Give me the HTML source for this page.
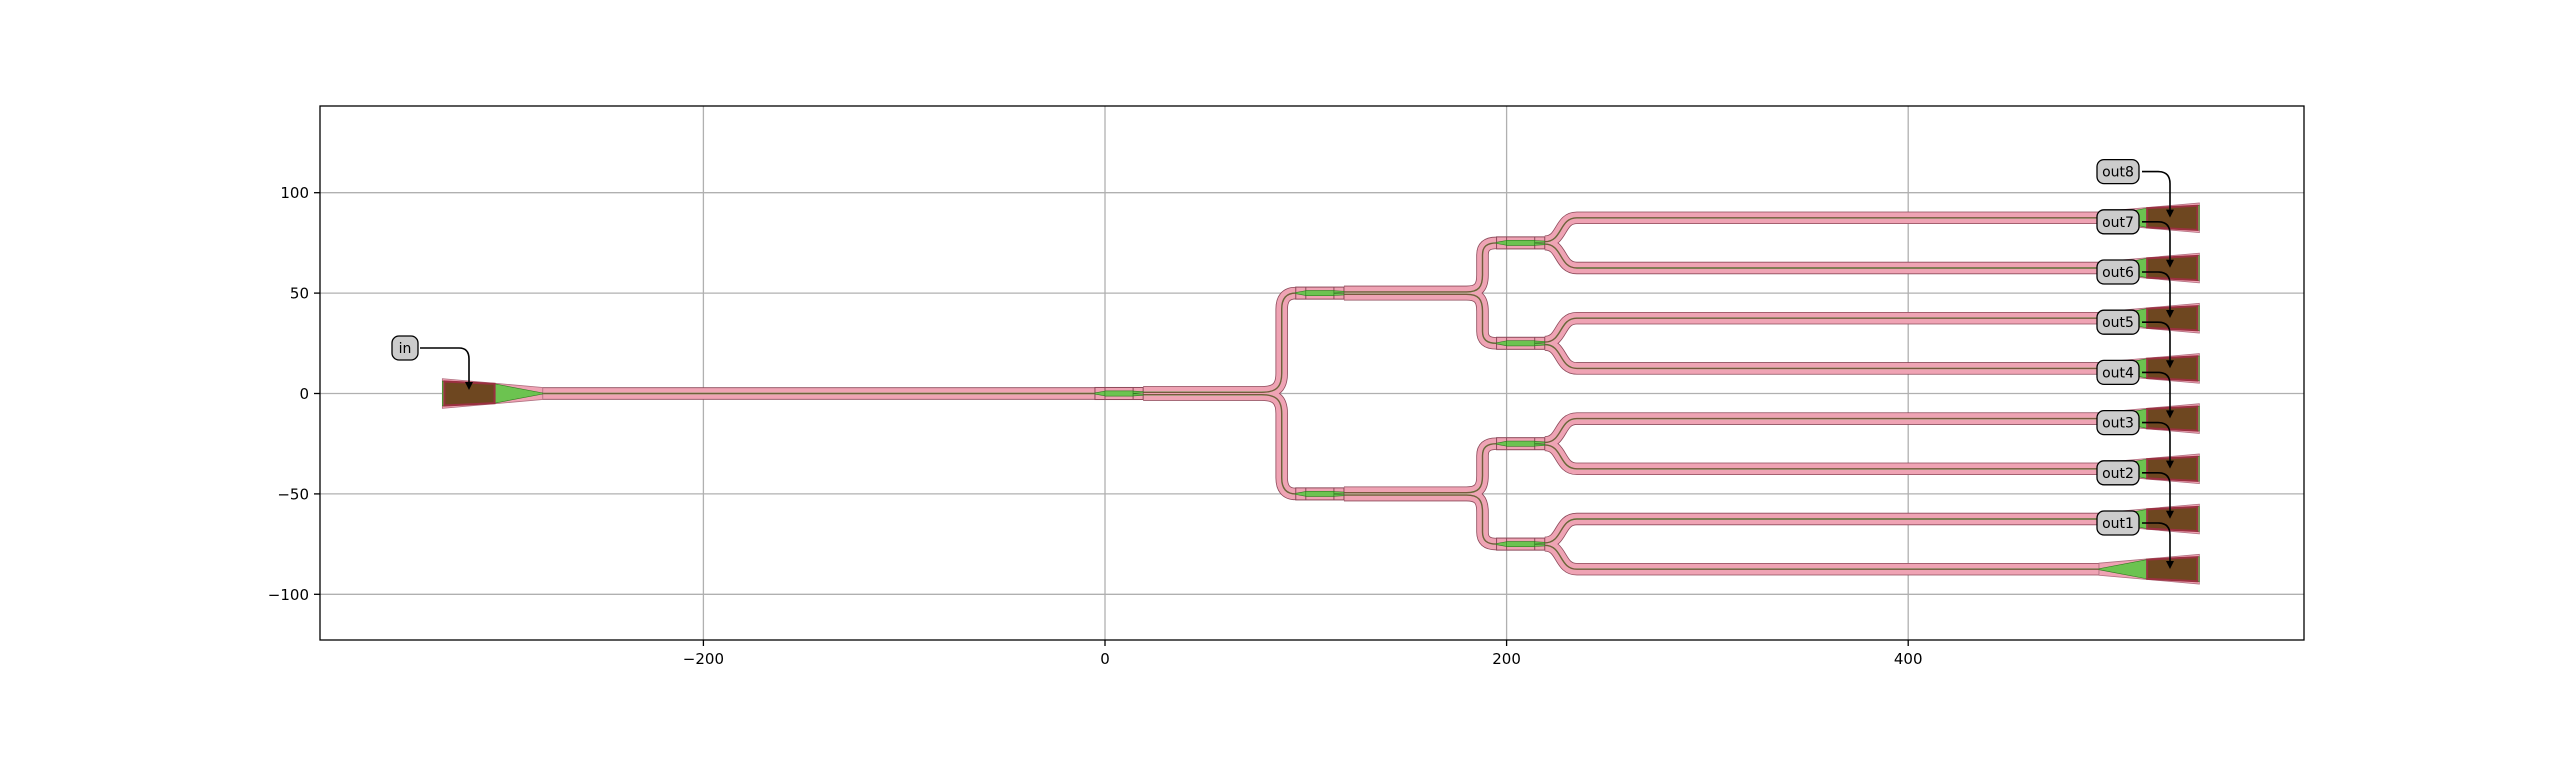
<!DOCTYPE html>
<html><head><meta charset="utf-8"><style>
html,body{margin:0;padding:0;background:#fff;}
svg{display:block;}
text{font-family:"DejaVu Sans","Liberation Sans",sans-serif;}
</style></head><body>
<svg width="2560" height="767" viewBox="0 0 2560 767" xmlns="http://www.w3.org/2000/svg">
<defs>
  <g id="br3">
    <path d="M219 0.6 C228 0.6 226 12.5 235 12.5 H495"/>
    <path d="M219 -0.6 C228 -0.6 226 -12.5 235 -12.5 H495"/>
  </g>
  <g id="br2">
    <path d="M119 0.6 H180 C186 0.6 188 3 188 9 V19 C188 23 190 25 195 25"/>
    <path d="M119 -0.6 H180 C186 -0.6 188 -3 188 -9 V-19 C188 -23 190 -25 195 -25"/>
  </g>
  <g id="wg">
    <path d="M-280 0 H-5"/>
    <path d="M19 0.6 H78 C85 0.6 88 3 88 10 V42 C88 47 90 50 95 50"/>
    <path d="M19 -0.6 H78 C85 -0.6 88 -3 88 -10 V-42 C88 -47 90 -50 95 -50"/>
    <use href="#br2" transform="translate(0,50)"/>
    <use href="#br2" transform="translate(0,-50)"/>
    <use href="#br3" transform="translate(0,75)"/>
    <use href="#br3" transform="translate(0,25)"/>
    <use href="#br3" transform="translate(0,-25)"/>
    <use href="#br3" transform="translate(0,-75)"/>
  </g>
  <g id="mmi">
    <rect x="0" y="-3" width="24" height="6" fill="#efa3b4" stroke="#8c4a5a" stroke-width="0.5"/>
    <line x1="5" y1="-3" x2="5" y2="3" stroke="#8c4a5a" stroke-width="0.5"/>
    <line x1="19" y1="-3" x2="19" y2="3" stroke="#8c4a5a" stroke-width="0.5"/>
    <polygon points="0,-0.3 5,-1.2 5,1.2 0,0.3" fill="#6cc350" stroke="#2f7a20" stroke-width="0.3"/>
    <rect x="5" y="-1.3" width="14" height="2.6" fill="#6cc350" stroke="#2f7a20" stroke-width="0.3"/>
    <polygon points="19,-1.2 24,-0.9 24,-0.3 19,-0.1" fill="#6cc350" stroke="#2f7a20" stroke-width="0.3"/>
    <polygon points="19,1.2 24,0.9 24,0.3 19,0.1" fill="#6cc350" stroke="#2f7a20" stroke-width="0.3"/>
  </g>
  <g id="taper">
    <!-- wide end at x=0, narrow at x=50 -->
    <polygon points="0,-7.4 50,-3 50,3 0,7.4" fill="#efa3b4" stroke="#b07080" stroke-width="0.4"/>
    <polygon points="0,-6.2 25,-5 50,-0.25 50,0.25 25,5 0,6.2" fill="#6cc350" stroke="#2f7a20" stroke-width="0.3"/>
    <polygon points="1,-6 26,-4.8 26,4.8 1,6" fill="#6e4720" stroke="#9a3040" stroke-width="1"/>
  </g>
  <g id="albl">
    <rect x="-21" y="-12" width="42" height="24" rx="7" fill="#cccccc" stroke="#000" stroke-width="1.3"/>
    <path d="M24 0 H40 Q52 0 52 12 V40" fill="none" stroke="#000" stroke-width="1.6"/>
    <polygon points="48,38 56,38 52,46" fill="#000"/>
  </g>
</defs>

<!-- grid -->
<g stroke="#b0b0b0" stroke-width="1.3">
  <line x1="703.4" y1="106" x2="703.4" y2="640"/>
  <line x1="1105" y1="106" x2="1105" y2="640"/>
  <line x1="1506.6" y1="106" x2="1506.6" y2="640"/>
  <line x1="1908.2" y1="106" x2="1908.2" y2="640"/>
  <line x1="320" y1="192.7" x2="2304" y2="192.7"/>
  <line x1="320" y1="293.1" x2="2304" y2="293.1"/>
  <line x1="320" y1="393.5" x2="2304" y2="393.5"/>
  <line x1="320" y1="493.9" x2="2304" y2="493.9"/>
  <line x1="320" y1="594.3" x2="2304" y2="594.3"/>
</g>

<g transform="translate(1105,393.5) scale(2.008,-2.008)">
  <use href="#wg" fill="none" stroke="#8c4a5a" stroke-width="6.2"/>
  <use href="#wg" fill="none" stroke="#efa3b4" stroke-width="5.4"/>
  <use href="#wg" fill="none" stroke="#3f8a2c" stroke-width="0.7"/>
  <use href="#wg" fill="none" stroke="#9a3a48" stroke-width="0.3"/>
  <use href="#mmi" transform="translate(-5,0)"/>
  <use href="#mmi" transform="translate(95,50)"/>
  <use href="#mmi" transform="translate(95,-50)"/>
  <use href="#mmi" transform="translate(195,75)"/>
  <use href="#mmi" transform="translate(195,25)"/>
  <use href="#mmi" transform="translate(195,-25)"/>
  <use href="#mmi" transform="translate(195,-75)"/>
  <use href="#taper" transform="translate(-330,0)"/>
  <use href="#taper" transform="translate(545,87.5) scale(-1,1)"/>
  <use href="#taper" transform="translate(545,62.5) scale(-1,1)"/>
  <use href="#taper" transform="translate(545,37.5) scale(-1,1)"/>
  <use href="#taper" transform="translate(545,12.5) scale(-1,1)"/>
  <use href="#taper" transform="translate(545,-12.5) scale(-1,1)"/>
  <use href="#taper" transform="translate(545,-37.5) scale(-1,1)"/>
  <use href="#taper" transform="translate(545,-62.5) scale(-1,1)"/>
  <use href="#taper" transform="translate(545,-87.5) scale(-1,1)"/>
</g>

<!-- labels -->
<g font-size="14" text-anchor="middle">
  <g transform="translate(405,348)">
    <rect x="-13" y="-12" width="26" height="24" rx="7" fill="#cccccc" stroke="#000" stroke-width="1.3"/>
    <path d="M15 0 H54 Q64 0 64 11 V36" fill="none" stroke="#000" stroke-width="1.6"/>
    <polygon points="60,34 68,34 64,42" fill="#000"/>
    <text x="0" y="5">in</text>
  </g>
  <g transform="translate(2118,171.6)"><use href="#albl"/><text x="0" y="5">out8</text></g>
  <g transform="translate(2118,221.8)"><use href="#albl"/><text x="0" y="5">out7</text></g>
  <g transform="translate(2118,272)"><use href="#albl"/><text x="0" y="5">out6</text></g>
  <g transform="translate(2118,322.2)"><use href="#albl"/><text x="0" y="5">out5</text></g>
  <g transform="translate(2118,372.4)"><use href="#albl"/><text x="0" y="5">out4</text></g>
  <g transform="translate(2118,422.6)"><use href="#albl"/><text x="0" y="5">out3</text></g>
  <g transform="translate(2118,472.8)"><use href="#albl"/><text x="0" y="5">out2</text></g>
  <g transform="translate(2118,523)"><use href="#albl"/><text x="0" y="5">out1</text></g>
</g>

<!-- axes frame -->
<rect x="320" y="106" width="1984" height="534" fill="none" stroke="#000" stroke-width="1.3"/>
<g stroke="#000" stroke-width="1.3">
  <line x1="703.4" y1="640" x2="703.4" y2="646"/>
  <line x1="1105" y1="640" x2="1105" y2="646"/>
  <line x1="1506.6" y1="640" x2="1506.6" y2="646"/>
  <line x1="1908.2" y1="640" x2="1908.2" y2="646"/>
  <line x1="314" y1="192.7" x2="320" y2="192.7"/>
  <line x1="314" y1="293.1" x2="320" y2="293.1"/>
  <line x1="314" y1="393.5" x2="320" y2="393.5"/>
  <line x1="314" y1="493.9" x2="320" y2="493.9"/>
  <line x1="314" y1="594.3" x2="320" y2="594.3"/>
</g>
<g font-size="15" fill="#000">
  <g text-anchor="middle">
    <text x="703.4" y="664">−200</text>
    <text x="1105" y="664">0</text>
    <text x="1506.6" y="664">200</text>
    <text x="1908.2" y="664">400</text>
  </g>
  <g text-anchor="end">
    <text x="309" y="198">100</text>
    <text x="309" y="298.5">50</text>
    <text x="309" y="399">0</text>
    <text x="309" y="499.5">−50</text>
    <text x="309" y="600">−100</text>
  </g>
</g>
</svg>
</body></html>
